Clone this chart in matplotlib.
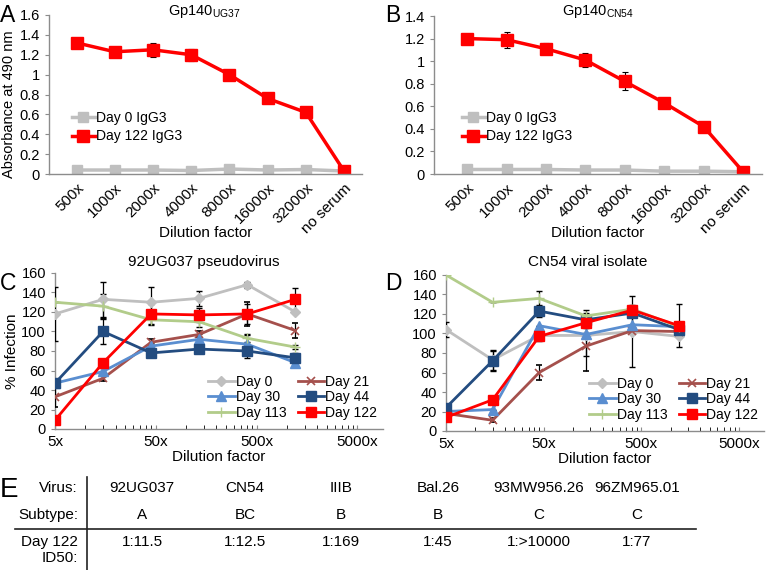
import numpy as np
import matplotlib.pyplot as plt
from matplotlib.lines import Line2D
from matplotlib.ticker import FixedLocator, NullFormatter

plt.rcParams['font.family'] = ['Liberation Sans', 'DejaVu Sans']
plt.rcParams['font.size'] = 10.5

# ELISA panels (A, B)
dilutions = ['500x', '1000x', '2000x', '4000x', '8000x', '16000x', '32000x', 'no serum']
a_day0 = [0.04, 0.04, 0.04, 0.035, 0.05, 0.04, 0.045, 0.03]
a_day122 = [1.32, 1.23, 1.25, 1.20, 1.00, 0.76, 0.62, 0.03]
a_day122_err = [0.05, 0.02, 0.07, 0.06, 0.03, 0.04, 0.02, 0.0]
b_day0 = [0.04, 0.04, 0.04, 0.035, 0.035, 0.025, 0.025, 0.02]
b_day122 = [1.20, 1.19, 1.11, 1.01, 0.82, 0.63, 0.42, 0.02]
b_day122_err = [0.0, 0.07, 0.05, 0.06, 0.08, 0.0, 0.0, 0.0]

# neutralisation panels (C, D)
neut_dil = [5, 15, 45, 135, 405, 1215]
days = ['Day 0', 'Day 21', 'Day 30', 'Day 44', 'Day 113', 'Day 122']
c_vals = {
    'Day 0':   [118, 133, 130, 134, 148, 120],
    'Day 21':  [33, 52, 89, 97, 118, 101],
    'Day 30':  [47, 59, 85, 92, 87, 68],
    'Day 44':  [47, 100, 78, 82, 80, 73],
    'Day 113': [130, 126, 112, 110, 93, 84],
    'Day 122': [9, 68, 118, 117, 118, 133],
}
c_err = {
    'Day 0':   [28, 18, 16, 8, 3, 0],
    'Day 21':  [10, 3, 3, 3, 12, 8],
    'Day 30':  [0, 4, 3, 5, 9, 3],
    'Day 44':  [0, 13, 2, 3, 7, 5],
    'Day 113': [0, 12, 5, 5, 4, 2],
    'Day 122': [0, 0, 10, 7, 10, 12],
}
d_vals = {
    'Day 0':   [104, 73, 98, 98, 102, 97],
    'Day 21':  [18, 11, 60, 87, 103, 102],
    'Day 30':  [20, 22, 108, 99, 109, 107],
    'Day 44':  [24, 72, 123, 114, 121, 104],
    'Day 113': [160, 132, 136, 118, 125, 107],
    'Day 122': [14, 32, 97, 111, 124, 108],
}
d_err = {
    'Day 0':   [8, 10, 3, 0, 36, 0],
    'Day 21':  [0, 2, 8, 25, 0, 0],
    'Day 30':  [0, 0, 0, 22, 8, 0],
    'Day 44':  [0, 10, 6, 5, 3, 6],
    'Day 113': [0, 0, 8, 6, 0, 0],
    'Day 122': [0, 0, 5, 5, 5, 22],
}
day_style = {
    'Day 0':   dict(color='#BFBFBF', marker='D', ms=5),
    'Day 21':  dict(color='#A5504C', marker='x', ms=6, mew=1.2),
    'Day 30':  dict(color='#5A8ED0', marker='^', ms=7),
    'Day 44':  dict(color='#234C80', marker='s', ms=7),
    'Day 113': dict(color='#B2CC8A', marker='+', ms=7, mew=1.0),
    'Day 122': dict(color='#FF0000', marker='s', ms=7),
}

# table (E)
row_labels = ['Virus:', 'Subtype:', 'Day 122\nID50:']
viruses = ['92UG037', 'CN54', 'IIIB', 'Bal.26', '93MW956.26', '96ZM965.01']
subtypes = ['A', 'BC', 'B', 'B', 'C', 'C']
id50 = ['1:11.5', '1:12.5', '1:169', '1:45', '1:>10000', '1:77']

W, H = 768, 570
fig = plt.figure(figsize=(W / 100, H / 100), dpi=100)


def box(l, t, r, b):
    return [l / W, 1 - b / H, (r - l) / W, (b - t) / H]


def px_to_axes(ax, x, y):
    # figure pixel (from top-left) -> axes fraction
    l, b, w, h = ax.get_position().bounds
    return ((x / W - l) / w, ((1 - y / H) - b) / h)


def style_axes(ax):
    for s in ['top', 'right']:
        ax.spines[s].set_visible(False)
    for s in ['left', 'bottom']:
        ax.spines[s].set_color('#8C8C8C')
        ax.spines[s].set_linewidth(1.0)
    ax.tick_params(colors='#8C8C8C', labelcolor='black', width=0.8, length=3)


def elisa(ax, d0, d122, err, ymax, title, title_xy, leg_xy):
    x = np.arange(len(dilutions))
    ax.plot(x, d0, color='#BFBFBF', lw=2.5, marker='s', ms=7)
    ax.errorbar(x, d122, yerr=err, color='#FF0000', lw=2.5, marker='s', ms=8,
                ecolor='black', elinewidth=0.8, capsize=2.5, capthick=0.8)
    ax.set_ylim(0, ymax)
    yt = np.round(np.arange(0, ymax + 0.01, 0.2), 1)
    ax.set_yticks(yt)
    ax.set_yticklabels(['%g' % v for v in yt])
    ax.set_xticks(x)
    ax.set_xticklabels(dilutions, rotation=45, ha='right', rotation_mode='anchor',
                       fontsize=11)
    ax.set_xlabel('Dilution factor', fontsize=11)
    ax.xaxis.set_label_coords(0.5, -0.33)
    ax.text(*px_to_axes(ax, *title_xy), title, transform=ax.transAxes,
            ha='center', va='center', fontsize=10.5)
    style_axes(ax)
    ax.tick_params(axis='x', length=0, pad=5)
    handles = [Line2D([], [], color='#BFBFBF', lw=2.5, marker='s', ms=7),
               Line2D([], [], color='#FF0000', lw=2.5, marker='s', ms=8)]
    ax.legend(handles, ['Day 0 IgG3', 'Day 122 IgG3'], loc='upper left',
              bbox_to_anchor=px_to_axes(ax, *leg_xy), frameon=False,
              handlelength=1.7, handletextpad=0.05, borderaxespad=0.0,
              labelspacing=0.35, fontsize=10)


ax_a = fig.add_axes(box(49, 15, 362, 174))
ax_a.set_xlim(-0.72, 7.47)
elisa(ax_a, a_day0, a_day122, a_day122_err, 1.6, r'Gp140$_{\mathregular{UG37}}$',
      (204, 12), (66, 105))
ax_a.set_ylabel('Absorbance at 490 nm', fontsize=10.5)
ax_a.yaxis.set_label_coords(-0.107, 0.44)

ax_b = fig.add_axes(box(434, 16, 762, 174))
ax_b.set_xlim(-0.84, 7.48)
elisa(ax_b, b_day0, b_day122, b_day122_err, 1.4, r'Gp140$_{\mathregular{CN54}}$',
      (598, 12), (456, 105))


def neut(ax, vals, errs, title, title_xy):
    for d in days:
        st = day_style[d]
        ax.errorbar(neut_dil, vals[d], yerr=errs[d], color=st['color'], lw=2,
                    marker=st['marker'], ms=st['ms'], mew=st.get('mew', 1),
                    ecolor='black', elinewidth=0.9, capsize=2, capthick=0.9,
                    label=d, zorder=3)
    ax.set_xscale('log')
    ax.set_xlim(5, 9000)
    ax.set_ylim(0, 160)
    ax.set_yticks(np.arange(0, 161, 20))
    major = [5, 50, 500, 5000]
    ax.xaxis.set_major_locator(FixedLocator(major))
    ax.set_xticklabels(['%dx' % m for m in major], fontsize=11)
    minor = [b * m for b in major for m in range(2, 10) if b * m < 9000]
    ax.xaxis.set_minor_locator(FixedLocator(minor))
    ax.xaxis.set_minor_formatter(NullFormatter())
    style_axes(ax)
    ax.tick_params(axis='x', which='both', direction='in', length=3, pad=4)
    ax.set_xlabel('Dilution factor', fontsize=11, labelpad=1)
    ax.text(*px_to_axes(ax, *title_xy), title, transform=ax.transAxes,
            ha='center', va='center', fontsize=11)
    h, l = ax.get_legend_handles_labels()
    h = [hh[0] for hh in h]
    order = [0, 2, 4, 1, 3, 5]
    ax.legend([h[i] for i in order], [l[i] for i in order], ncol=2,
              loc='lower right', bbox_to_anchor=(1.0, 0.025), frameon=False,
              handlelength=1.9, handletextpad=0.1, columnspacing=0.8,
              labelspacing=0.1, borderaxespad=0.0, fontsize=10)


ax_c = fig.add_axes(box(55, 273, 383, 429))
neut(ax_c, c_vals, c_err, '92UG037 pseudovirus', (204, 262))
ax_c.set_ylabel('% Infection', fontsize=11, labelpad=2)

ax_d = fig.add_axes(box(446, 275, 764, 431))
neut(ax_d, d_vals, d_err, 'CN54 viral isolate', (588, 262))

# panel letters
for letter, (x, y), fs in zip('ABCDE',
                              [(0, 4), (385, 4), (0, 272), (385, 272), (0, 477)],
                              [16.5, 16.5, 16.5, 16.5, 20]):
    fig.text(x / W, 1 - y / H, letter, fontsize=fs, va='top', ha='left')

# table
ax_e = fig.add_axes([0, 0, 1, 1], zorder=-1)
ax_e.set_xlim(0, W)
ax_e.set_ylim(H, 0)
ax_e.axis('off')
tfont = dict(fontsize=11)
ax_e.plot([87, 87], [477, 570], color='#222222', lw=1.2)
ax_e.plot([15, 696], [529, 529], color='#222222', lw=1.2)
col_x = [142, 245, 341, 438, 539, 637]
row_y = [488, 515, 542]
for ry, lab in zip(row_y, row_labels):
    ax_e.text(78, ry - 7, lab, ha='right', va='top', linespacing=1.2, **tfont)
for cx, v, s, i in zip(col_x, viruses, subtypes, id50):
    for ry, txt in zip(row_y, [v, s, i]):
        ax_e.text(cx, ry, txt, ha='center', va='center', **tfont)

fig.savefig('out.png', dpi=100)
